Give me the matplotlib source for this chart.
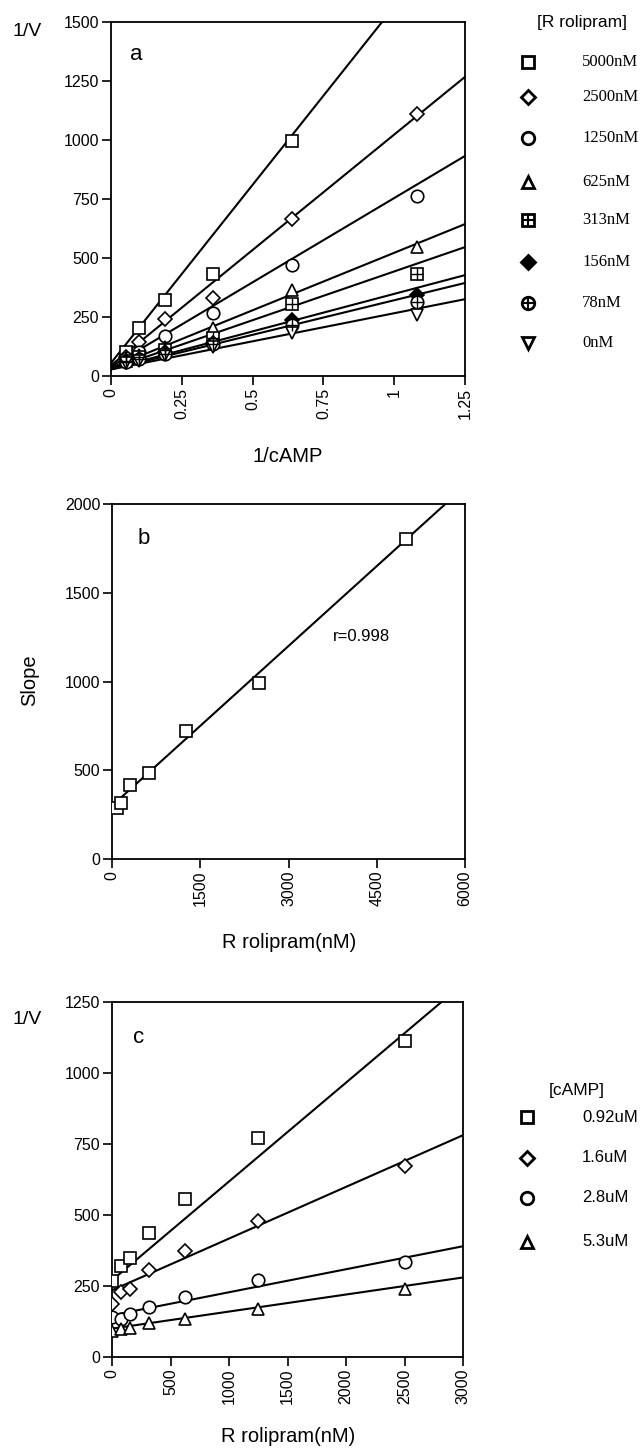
import numpy as np
import matplotlib
matplotlib.use('Agg')
import matplotlib.pyplot as plt

plt.rcParams['font.family'] = ['Liberation Sans', 'DejaVu Sans']

# ---- panel a: Lineweaver-Burk, 1/V vs 1/cAMP ----
inv_camp = [0.053, 0.1, 0.19, 0.36, 0.64, 1.08]
rolipram_labels = ['5000nM', '2500nM', '1250nM', '625nM', '313nM', '156nM', '78nM', '0nM']
v_5000 = [102, 203, 322, 432, 996, np.nan]
v_2500 = [80, 144, 242, 331, 665, 1110]
v_1250 = [75, 100, 170, 267, 470, 763]
v_625 = [70, 90, 123, 203, 364, 547]
v_313 = [65, 80, 110, 161, 305, 432]
v_156 = [60, 72, 100, 140, 237, 343]
v_78 = [58, 70, 95, 135, 216, 314]
v_0 = [55, 65, 88, 123, 182, 258]
a_series = [v_5000, v_2500, v_1250, v_625, v_313, v_156, v_78, v_0]
a_intercepts = [55, 45, 40, 35, 30, 30, 28, 28]
a_slopes = [1510, 978, 714, 487, 413, 318, 293, 238]

# ---- panel b: slope vs R rolipram ----
b_conc = [78, 156, 313, 625, 1250, 2500, 5000]
b_slope = [285, 317, 417, 483, 723, 992, 1801]
b_intercept = 300
b_fit_slope = 0.3

# ---- panel c: 1/V vs R rolipram at each cAMP ----
c_conc = [0, 78, 156, 313, 625, 1250, 2500]
camp_labels = ['0.92uM', '1.6uM', '2.8uM', '5.3uM']
c_092 = [266, 322, 349, 438, 558, 772, 1113]
c_16 = [188, 229, 238, 305, 373, 479, 671]
c_28 = [141, 135, 153, 176, 211, 272, 334]
c_53 = [92, 100, 102, 118, 135, 170, 241]
c_series = [c_092, c_16, c_28, c_53]
c_intercepts = [270, 235, 147, 100]
c_slopes = [0.348, 0.182, 0.081, 0.06]

# marker styles: (marker, filled, overlay)
a_markers = [('s', False, None), ('D', False, None), ('o', False, None), ('^', False, None),
             ('s', False, '+'), ('D', True, None), ('o', False, '+'), ('v', False, None)]
c_markers = ['s', 'D', 'o', '^']

TICK_FS = 11.5
LABEL_FS = 14.5

fig = plt.figure(figsize=(6.4, 14.49), dpi=100)
W, H = 640, 1449


def add_ax(l, r, t, b):
    return fig.add_axes([l / W, 1 - b / H, (r - l) / W, (b - t) / H])


def style(ax):
    for s in ax.spines.values():
        s.set_linewidth(1.3)
    ax.tick_params(direction='out', length=6.5, width=1.2, labelsize=TICK_FS, pad=2)
    for lab in ax.get_xticklabels():
        lab.set_rotation(90)


def draw_marker(ax, x, y, spec, size):
    m, filled, over = spec
    ms = size * (0.75 if m == 'D' else 1.0)
    ax.plot(x, y, linestyle='none', marker=m, markersize=ms,
            markerfacecolor='black' if filled else 'white',
            markeredgecolor='black', markeredgewidth=1.2, zorder=3)
    if over:
        ax.plot(x, y, linestyle='none', marker=over, markersize=ms,
                markeredgecolor='black', markeredgewidth=1.0, zorder=4)


def ftext(x, y, s, **kw):
    fig.text(x / W, 1 - y / H, s, **kw)


# panel a
ax = add_ax(111, 465, 22, 376)
xx = np.linspace(0, 1.25, 200)
for b, k in zip(a_intercepts, a_slopes):
    ax.plot(xx, b + k * xx, color='black', lw=1.5, zorder=2)
for ys, spec in zip(a_series, a_markers):
    draw_marker(ax, inv_camp, ys, spec, 9)
ax.set_xlim(0, 1.25)
ax.set_ylim(0, 1500)
ax.set_xticks([0, 0.25, 0.5, 0.75, 1, 1.25])
ax.set_xticklabels(['0', '0.25', '0.5', '0.75', '1', '1.25'])
ax.set_yticks(range(0, 1501, 250))
style(ax)
ax.text(0.054, 0.907, 'a', transform=ax.transAxes, fontsize=16, va='center')
ftext(13, 31, '1/V', fontsize=14, va='center')
ftext(288, 456, '1/cAMP', fontsize=LABEL_FS, ha='center', va='center')

# panel b
ax = add_ax(112, 465, 504, 859)
xx = np.linspace(0, 6000, 200)
ax.plot(xx, b_intercept + b_fit_slope * xx, color='black', lw=1.5, zorder=2)
draw_marker(ax, b_conc, b_slope, ('s', False, None), 9)
ax.set_xlim(0, 6000)
ax.set_ylim(0, 2000)
ax.set_xticks(range(0, 6001, 1500))
ax.set_yticks(range(0, 2001, 500))
style(ax)
ax.text(0.071, 0.904, 'b', transform=ax.transAxes, fontsize=16, va='center')
ax.text(3760, 1256, 'r=0.998', fontsize=12, va='center')
ftext(289, 943, 'R rolipram(nM)', fontsize=LABEL_FS, ha='center', va='center')
ftext(30, 680, 'Slope', fontsize=LABEL_FS, ha='center', va='center', rotation=90)

# panel c
ax = add_ax(112, 463, 1002, 1357)
xx = np.linspace(0, 3000, 200)
for b, k in zip(c_intercepts, c_slopes):
    ax.plot(xx, b + k * xx, color='black', lw=1.5, zorder=2)
for ys, m in zip(c_series, c_markers):
    draw_marker(ax, c_conc, ys, (m, False, None), 9)
ax.set_xlim(0, 3000)
ax.set_ylim(0, 1250)
ax.set_xticks(range(0, 3001, 500))
ax.set_yticks(range(0, 1251, 250))
style(ax)
ax.text(0.06, 0.9, 'c', transform=ax.transAxes, fontsize=16, va='center')
ftext(13, 1020, '1/V', fontsize=14, va='center')
ftext(288, 1436, 'R rolipram(nM)', fontsize=LABEL_FS, ha='center', va='center')

# legends drawn in pixel space
lg = fig.add_axes([0, 0, 1, 1])
lg.set_xlim(0, W)
lg.set_ylim(H, 0)
lg.axis('off')
lg.text(582, 22, '[R rolipram]', fontsize=12.5, ha='center', va='center')
a_rows = [62, 97, 138, 182, 220, 262, 303, 343]
for yy, spec, lab in zip(a_rows, a_markers, rolipram_labels):
    m, filled, over = spec
    ms = 9 * (0.8 if m == 'D' else 1.0)
    lg.plot(528, yy, marker=m, markersize=ms, linestyle='none',
            markerfacecolor='black' if filled else 'white',
            markeredgecolor='black', markeredgewidth=2.0)
    if over:
        lg.plot(528, yy, marker=over, markersize=ms, linestyle='none',
                markeredgecolor='black', markeredgewidth=1.5)
    lg.text(582, yy, lab, fontsize=12, va='center', family=['Liberation Serif', 'DejaVu Serif'])

lg.text(577, 1090, '[cAMP]', fontsize=12.5, ha='center', va='center')
c_rows = [1117, 1158, 1198, 1242]
for yy, m, lab in zip(c_rows, c_markers, camp_labels):
    ms = 9 * (0.8 if m == 'D' else 1.0)
    lg.plot(527, yy, marker=m, markersize=ms, linestyle='none',
            markerfacecolor='white', markeredgecolor='black', markeredgewidth=2.0)
    lg.text(582, yy, lab, fontsize=12, va='center')

fig.savefig('out.png', dpi=100)
